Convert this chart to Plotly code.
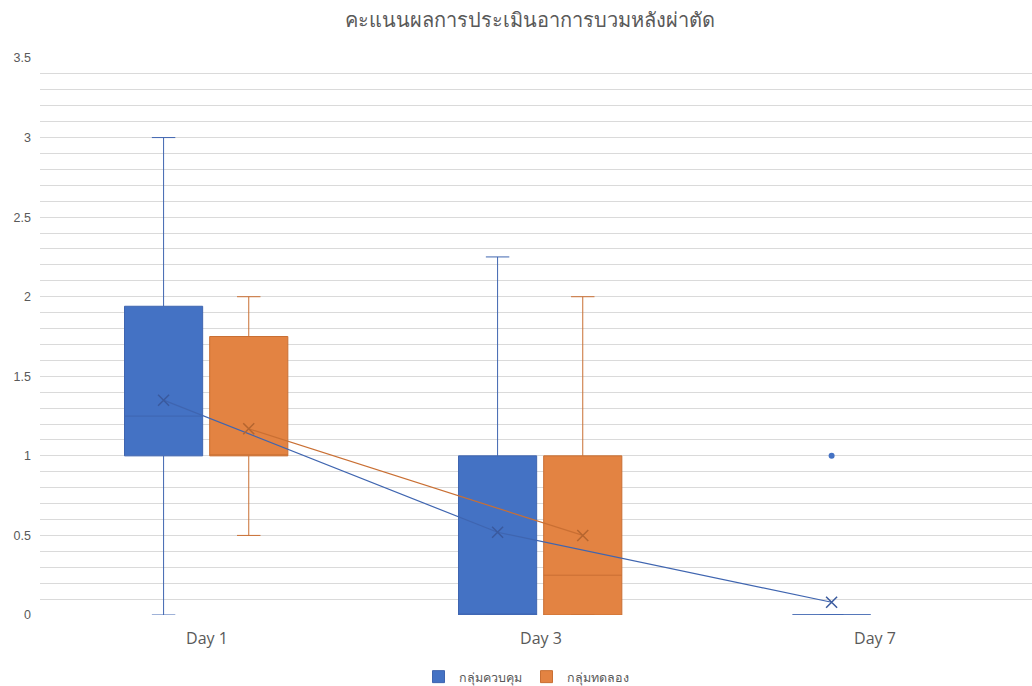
import plotly.graph_objects as go

# ---- data ----
categories = ["Day 1", "Day 3", "Day 7"]
series_names = ["กลุ่มควบคุม", "กลุ่มทดลอง"]

# control group (blue)
ctrl_idx = [0, 1, 2]
ctrl_min = [0, 0, 0]
ctrl_q1 = [1, 0, 0]
ctrl_median = [1.25, 0, 0]
ctrl_q3 = [1.94, 1, 0]
ctrl_max = [3, 2.25, 0]
ctrl_mean = [1.35, 0.52, 0.08]
ctrl_outlier_idx = [2]
ctrl_outlier_val = [1]

# experimental group (orange)
exp_idx = [0, 1]
exp_min = [0.5, 0]
exp_q1 = [1, 0]
exp_median = [1, 0.25]
exp_q3 = [1.75, 1]
exp_max = [2, 2]
exp_mean = [1.17, 0.5]

title_text = "คะแนนผลการประเมินอาการบวมหลังผ่าตัด"

# ---- style ----
BLUE_FILL = "#4472C4"
BLUE_LINE = "#3F65B0"
ORANGE_FILL = "#E38342"
ORANGE_LINE = "#C96F33"
OFF_CTRL = -0.13
OFF_EXP = 0.125
BOX_W = 0.234

ctrl_x = [i + OFF_CTRL for i in ctrl_idx]
exp_x = [i + OFF_EXP for i in exp_idx]

fig = go.Figure()

fig.add_trace(go.Box(
    name=series_names[0], x=ctrl_x,
    q1=ctrl_q1, median=ctrl_median, q3=ctrl_q3,
    lowerfence=ctrl_min, upperfence=ctrl_max,
    width=BOX_W, whiskerwidth=0.3,
    fillcolor=BLUE_FILL, line=dict(color=BLUE_LINE, width=1),
    boxpoints=False, hoverinfo="skip",
))
fig.add_trace(go.Scatter(
    x=ctrl_x, y=ctrl_mean, mode="lines+markers", showlegend=False,
    line=dict(color=BLUE_LINE, width=1.2),
    marker=dict(symbol="x-thin", size=11, line=dict(color="#3A5A9E", width=1.5)),
))
fig.add_trace(go.Scatter(
    x=[i + OFF_CTRL for i in ctrl_outlier_idx], y=ctrl_outlier_val,
    mode="markers", showlegend=False,
    marker=dict(symbol="circle", size=6, color=BLUE_FILL),
))

fig.add_trace(go.Box(
    name=series_names[1], x=exp_x,
    q1=exp_q1, median=exp_median, q3=exp_q3,
    lowerfence=exp_min, upperfence=exp_max,
    width=BOX_W, whiskerwidth=0.3,
    fillcolor=ORANGE_FILL, line=dict(color=ORANGE_LINE, width=1),
    boxpoints=False, hoverinfo="skip",
))
fig.add_trace(go.Scatter(
    x=exp_x, y=exp_mean, mode="lines+markers", showlegend=False,
    line=dict(color=ORANGE_LINE, width=1.2),
    marker=dict(symbol="x-thin", size=11, line=dict(color="#B5652F", width=1.5)),
))

PLOT_TOP, PLOT_BOTTOM = 58, 615
H = 686

fig.update_layout(
    width=1032, height=686,
    margin=dict(l=40, r=0, t=PLOT_TOP, b=H - PLOT_BOTTOM, autoexpand=False),
    paper_bgcolor="white", plot_bgcolor="white",
    title=dict(text=title_text, x=530 / 1032, xref="container", xanchor="center",
               y=1 - 20 / H, yref="container", yanchor="middle",
               font=dict(family="Noto Sans, sans-serif", size=20, color="#595959")),
    showlegend=True,
    legend=dict(orientation="h", x=526 / 1032, xanchor="center", xref="container",
                y=1 - 677 / H, yanchor="middle", yref="container",
                font=dict(family="Noto Sans, sans-serif", size=12.5, color="#595959"),
                itemwidth=30, tracegroupgap=0),
    xaxis=dict(range=[-0.5, 2.47], tickvals=list(range(len(categories))),
               ticktext=categories, showgrid=False, zeroline=False,
               showline=False, ticks="", automargin=False, ticklabelstandoff=12,
               tickfont=dict(family="Open Sans, sans-serif", size=16, color="#595959")),
    yaxis=dict(range=[0, 3.5], dtick=0.5, tick0=0, showgrid=True,
               gridcolor="#DADADA", gridwidth=1, zeroline=False, showline=False,
               ticks="", ticklabelstandoff=8, automargin=False,
               minor=dict(dtick=0.1, showgrid=True, gridcolor="#DADADA", gridwidth=1),
               tickfont=dict(family="Liberation Sans, Arial, sans-serif", size=12.5, color="#595959")),
)

fig.write_html("out.html")
